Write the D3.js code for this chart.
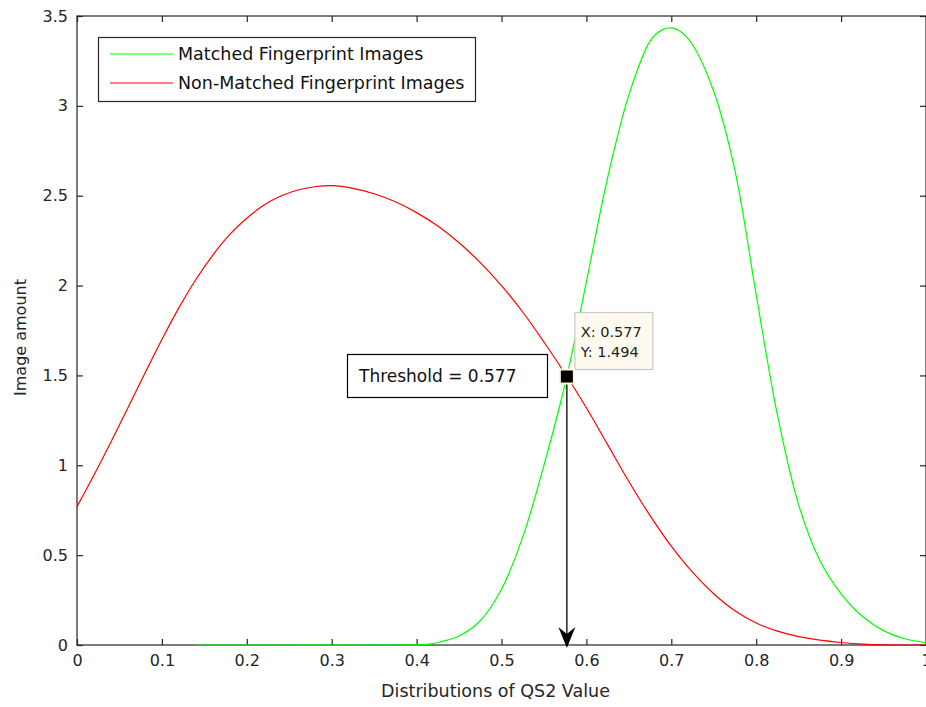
<!DOCTYPE html>
<html>
<head>
<meta charset="utf-8">
<script src="https://cdn.jsdelivr.net/npm/d3@7"></script>
<style>
  body { margin: 0; background: #fff; }
  svg { display: block; font-family: "DejaVu Sans", Verdana, sans-serif; }
</style>
</head>
<body>
<div id="chart"></div>
<script>
// values
const matchedX = [0.142, 0.25, 0.35, 0.415, 0.43, 0.45, 0.475, 0.5, 0.525, 0.55, 0.577, 0.6, 0.625, 0.65, 0.675, 0.688, 0.7,
  0.712, 0.725, 0.75, 0.775, 0.8, 0.825, 0.85, 0.875, 0.9, 0.925, 0.95, 0.975, 1.0];
const matchedY = [0, 0, 0, 0.005, 0.02, 0.05, 0.135, 0.31, 0.6, 1.0, 1.494, 2.02, 2.6, 3.06, 3.36, 3.42, 3.434,
  3.41, 3.34, 3.08, 2.64, 1.95, 1.28, 0.78, 0.47, 0.285, 0.16, 0.08, 0.035, 0.012];

const nonMatchedX = [0, 0.02, 0.04, 0.06, 0.08, 0.1, 0.12, 0.14, 0.16, 0.18, 0.2, 0.22, 0.24, 0.26, 0.28, 0.3,
  0.325, 0.35, 0.375, 0.4, 0.425, 0.45, 0.475, 0.5, 0.525, 0.55, 0.577, 0.6, 0.625, 0.65, 0.675, 0.7,
  0.725, 0.75, 0.775, 0.8, 0.825, 0.85, 0.875, 0.9, 0.925, 0.95, 1.0];
const nonMatchedY = [0.77, 0.946, 1.13, 1.32, 1.512, 1.7, 1.876, 2.034, 2.17, 2.285, 2.375, 2.447, 2.498, 2.532, 2.55, 2.556,
  2.541, 2.511, 2.466, 2.406, 2.331, 2.238, 2.128, 2.0, 1.853, 1.686, 1.494, 1.32, 1.115, 0.91, 0.72, 0.55,
  0.405, 0.285, 0.19, 0.122, 0.077, 0.047, 0.027, 0.014, 0.005, 0.001, 0];

const seriesNames = ["Matched Fingerprint Images", "Non-Matched Fingerprint Images"];
const seriesColors = ["#00ff00", "#ff0000"];
const xTicks = [0, 0.1, 0.2, 0.3, 0.4, 0.5, 0.6, 0.7, 0.8, 0.9, 1];
const yTicks = [0, 0.5, 1, 1.5, 2, 2.5, 3, 3.5];
const threshold = { x: 0.577, y: 1.494 };

const W = 926, H = 707;
const margin = { top: 16, right: 0, bottom: 62, left: 77 };

const svg = d3.select("#chart").append("svg")
  .attr("width", W).attr("height", H);

const x = d3.scaleLinear().domain([0, 1]).range([margin.left, W - margin.right]);
const y = d3.scaleLinear().domain([0, 3.5]).range([H - margin.bottom, margin.top]);

const axisColor = "#262626";
const fs = "16px";
const font = "'DejaVu Sans', Verdana, sans-serif";

// frame
svg.append("rect")
  .attr("x", x(0)).attr("y", y(3.5))
  .attr("width", x(1) - x(0)).attr("height", y(0) - y(3.5))
  .attr("fill", "#fff").attr("stroke", axisColor).attr("stroke-width", 1.2);

// ticks (inward) on all four sides
function tickAxis(axis, tr) {
  const g = svg.append("g").attr("transform", tr).call(axis);
  g.select(".domain").remove();
  g.selectAll("line").attr("stroke", axisColor).attr("stroke-width", 1.2);
  g.selectAll("text").attr("fill", "#262626").style("font-size", fs).style("font-family", font);
  return g;
}
const fmt = d3.format("");
tickAxis(d3.axisBottom(x).tickValues(xTicks).tickSize(-6).tickPadding(10).tickFormat(fmt),
  `translate(0,${y(0)})`);
tickAxis(d3.axisTop(x).tickValues(xTicks).tickSize(-6).tickFormat(""),
  `translate(0,${y(3.5)})`);
tickAxis(d3.axisLeft(y).tickValues(yTicks).tickSize(-6).tickPadding(9).tickFormat(fmt),
  `translate(${x(0)},0)`);
tickAxis(d3.axisRight(y).tickValues(yTicks).tickSize(-6).tickFormat(""),
  `translate(${x(1)},0)`);

// axis titles
svg.append("text")
  .attr("x", (x(0) + x(1)) / 2 - 6).attr("y", 697)
  .attr("text-anchor", "middle").style("font-size", "17.5px").attr("fill", "#262626")
  .text("Distributions of QS2 Value");
svg.append("text")
  .attr("transform", `translate(26,${(y(0) + y(3.5)) / 2 + 7}) rotate(-90)`)
  .attr("text-anchor", "middle").style("font-size", "16px").attr("fill", "#262626")
  .text("Image amount");

// curves
const line = d3.line().x(d => x(d[0])).y(d => y(d[1])).curve(d3.curveCatmullRom.alpha(0.5));
const series = [
  d3.zip(matchedX, matchedY),
  d3.zip(nonMatchedX, nonMatchedY)
];
series.forEach((pts, i) => {
  svg.append("path").datum(pts)
    .attr("d", line)
    .attr("fill", "none")
    .attr("stroke", seriesColors[i])
    .attr("stroke-width", 1.2);
});

// threshold arrow
const tx = x(threshold.x), ty = y(threshold.y), by = y(0);
svg.append("line")
  .attr("x1", tx).attr("x2", tx).attr("y1", ty).attr("y2", by - 6)
  .attr("stroke", "#000").attr("stroke-width", 1.3);
svg.append("path")
  .attr("d", `M${tx},${by + 3} L${tx - 8.5},${by - 18} L${tx},${by - 11} L${tx + 8.5},${by - 18} Z`)
  .attr("fill", "#000");

// threshold label box
svg.append("rect")
  .attr("x", 347.5).attr("y", 354.5).attr("width", 200).attr("height", 43)
  .attr("fill", "#fff").attr("stroke", "#000").attr("stroke-width", 1.2);
svg.append("text")
  .attr("x", 359).attr("y", 382).style("font-size", "17px").attr("fill", "#111")
  .text("Threshold = " + threshold.x);

// data tip
svg.append("rect")
  .attr("x", tx + 8).attr("y", ty - 64).attr("width", 78).attr("height", 57)
  .attr("fill", "#fffaf0").attr("stroke", "#c8c8c8").attr("stroke-width", 1.2);
svg.append("text")
  .attr("x", tx + 14).attr("y", ty - 40).style("font-size", "14.5px").attr("fill", "#222")
  .text("X: " + threshold.x);
svg.append("text")
  .attr("x", tx + 14).attr("y", ty - 20).style("font-size", "14.5px").attr("fill", "#222")
  .text("Y: " + threshold.y);
svg.append("rect")
  .attr("x", tx - 8).attr("y", ty - 8).attr("width", 16).attr("height", 16)
  .attr("fill", "#fff5e6");
svg.append("rect")
  .attr("x", tx - 6).attr("y", ty - 6).attr("width", 12).attr("height", 12)
  .attr("fill", "#000");

// legend
const legend = svg.append("g").attr("transform", "translate(98,37)");
legend.append("rect")
  .attr("x", 0.5).attr("y", 0.5).attr("width", 377).attr("height", 64)
  .attr("fill", "#fff").attr("stroke", axisColor).attr("stroke-width", 1.2);
seriesNames.forEach((name, i) => {
  const ly = 17 + i * 29;
  legend.append("line")
    .attr("x1", 12).attr("x2", 75).attr("y1", ly).attr("y2", ly)
    .attr("stroke", seriesColors[i]).attr("stroke-width", 1.2);
  legend.append("text")
    .attr("x", 80).attr("y", ly + 6).style("font-size", "17.5px").attr("fill", "#111")
    .text(name);
});
</script>
</body>
</html>
